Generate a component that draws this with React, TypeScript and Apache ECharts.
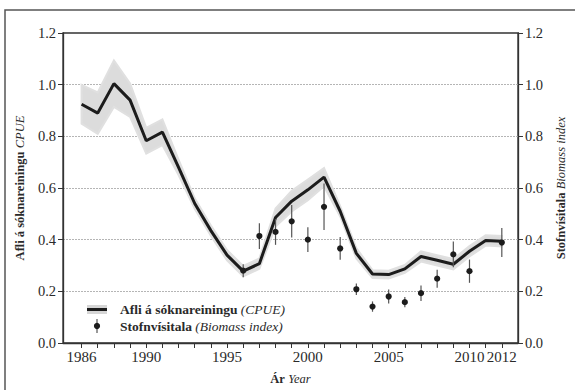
import React, { useEffect, useRef } from "react";
import * as echarts from "echarts";

const years = [1986, 1987, 1988, 1989, 1990, 1991, 1992, 1993, 1994, 1995, 1996, 1997, 1998, 1999, 2000, 2001, 2002, 2003, 2004, 2005, 2006, 2007, 2008, 2009, 2010, 2011, 2012];
const cpue = [0.924, 0.89, 1.004, 0.94, 0.783, 0.816, 0.68, 0.54, 0.435, 0.34, 0.278, 0.307, 0.486, 0.549, 0.593, 0.642, 0.51, 0.347, 0.267, 0.265, 0.287, 0.335, 0.32, 0.305, 0.355, 0.397, 0.394];
const cpueHalfCI = [0.075, 0.08, 0.09, 0.065, 0.05, 0.05, 0.03, 0.02, 0.02, 0.02, 0.02, 0.02, 0.035, 0.04, 0.04, 0.035, 0.02, 0.02, 0.015, 0.015, 0.015, 0.02, 0.02, 0.02, 0.02, 0.02, 0.02];

const bioYears = [1996, 1997, 1998, 1999, 2000, 2001, 2002, 2003, 2004, 2005, 2006, 2007, 2008, 2009, 2010, 2012];
const bio = [0.28, 0.414, 0.43, 0.471, 0.4, 0.527, 0.366, 0.208, 0.141, 0.18, 0.158, 0.193, 0.249, 0.343, 0.278, 0.389];
const bioErr = [0.025, 0.05, 0.05, 0.063, 0.048, 0.09, 0.044, 0.022, 0.02, 0.027, 0.02, 0.03, 0.035, 0.05, 0.045, 0.056];

const xLabelYears = [1986, 1990, 1995, 2000, 2005, 2010, 2012];

const SERIF = "'Liberation Serif', 'DejaVu Serif', serif";
const TXT = "#2a2a2a";

export default function App() {
  const ref = useRef<HTMLDivElement>(null);
  useEffect(() => {
    if (!ref.current) return;
    const chart = echarts.init(ref.current, null, { renderer: "svg" });
    const richName = {
      b: { fontFamily: SERIF, fontWeight: "bold", fontSize: 12.5, color: TXT },
      i: { fontFamily: SERIF, fontStyle: "italic", fontSize: 12.5, color: TXT },
    };
    const yCommon = {
      type: "value",
      min: 0,
      max: 1.2,
      interval: 0.2,
      axisLine: { show: true, lineStyle: { color: "#333", width: 1.3 } },
      axisTick: { show: true, inside: false, length: 5, lineStyle: { color: "#333" } },
      axisLabel: {
        formatter: (v: number) => v.toFixed(1),
        fontFamily: SERIF,
        fontSize: 14.5,
        color: TXT,
        margin: 7,
      },
      nameLocation: "middle",
      nameRotate: 90,
      nameTextStyle: { rich: richName },
    };
    const option: any = {
      animation: false,
      grid: {
        left: 63,
        right: 50,
        top: 33,
        bottom: 40,
        show: true,
        borderColor: "#333",
        borderWidth: 1.3,
        backgroundColor: "transparent",
      },
      xAxis: {
        type: "value",
        min: 1984.85,
        max: 2013,
        axisLine: { show: true, onZero: false, lineStyle: { color: "#333", width: 1.3 } },
        axisTick: { show: true, inside: false, length: 5, customValues: years, lineStyle: { color: "#333" } },
        axisLabel: {
          customValues: xLabelYears,
          formatter: (v: number) => String(v),
          fontFamily: SERIF,
          fontSize: 15,
          color: TXT,
          margin: 6,
        },
        splitLine: { show: false },
        name: "{b|Ár} {i|Year}",
        nameLocation: "middle",
        nameGap: 29,
        nameTextStyle: { rich: richName },
      },
      yAxis: [
        {
          ...yCommon,
          position: "left",
          name: "{b|Afli á sóknareiningu} {i|CPUE}",
          nameGap: 35,
          splitLine: {
            show: true,
            lineStyle: {
              color: ["transparent", "#b5b5b5", "#b5b5b5", "#b5b5b5", "#b5b5b5", "#b5b5b5", "transparent"],
              width: 1,
              type: [2, 1],
            },
          },
        },
        {
          ...yCommon,
          position: "right",
          name: "{b|Stofnvísitala} {i|Biomass index}",
          nameGap: 34,
          splitLine: { show: false },
        },
      ],
      series: [
        {
          type: "custom",
          z: 1,
          silent: true,
          data: years.map((y, i) => [y, cpue[i]]),
          encode: { x: 0, y: 1 },
          renderItem: (params: any, api: any) => {
            if (params.dataIndex !== 0) return null;
            const upper = years.map((y, i) => api.coord([y, cpue[i] + cpueHalfCI[i]]));
            const lower = years.map((y, i) => api.coord([y, cpue[i] - cpueHalfCI[i]])).reverse();
            return {
              type: "polygon",
              shape: { points: upper.concat(lower) },
              style: { fill: "#dcdcdc", stroke: "#e0e0e0", lineWidth: 2 },
            };
          },
        },
        {
          type: "line",
          z: 3,
          data: years.map((y, i) => [y, cpue[i]]),
          showSymbol: false,
          lineStyle: { color: "#1c1c1c", width: 3 },
          itemStyle: { color: "#1c1c1c" },
        },
        {
          type: "custom",
          z: 4,
          data: bioYears.map((y, i) => [y, bio[i], bioErr[i]]),
          encode: { x: 0, y: 1 },
          renderItem: (params: any, api: any) => {
            const x = api.value(0);
            const v = api.value(1);
            const e = api.value(2);
            const top = api.coord([x, v + e]);
            const bot = api.coord([x, v - e]);
            const c = api.coord([x, v]);
            return {
              type: "group",
              children: [
                {
                  type: "line",
                  shape: { x1: top[0], y1: top[1], x2: bot[0], y2: bot[1] },
                  style: { stroke: "#555", lineWidth: 1.2 },
                },
                {
                  type: "circle",
                  shape: { cx: c[0], cy: c[1], r: 3.1 },
                  style: { fill: "#1c1c1c" },
                },
              ],
            };
          },
        },
      ],
      graphic: [
        {
          type: "rect",
          silent: true,
          shape: { x: 5, y: 10, width: 620, height: 420 },
          style: { fill: "none", stroke: "#555", lineWidth: 1.5 },
        },
        {
          type: "rect",
          shape: { x: 87, y: 305, width: 20, height: 9 },
          style: { fill: "#d6d6d6" },
        },
        {
          type: "line",
          shape: { x1: 87, y1: 309.5, x2: 107, y2: 309.5 },
          style: { stroke: "#1c1c1c", lineWidth: 3 },
        },
        {
          type: "text",
          x: 120,
          y: 309.5,
          style: {
            text: "{b|Afli á sóknareiningu} {i|(CPUE)}",
            verticalAlign: "middle",
            rich: {
              b: { fontFamily: SERIF, fontWeight: "bold", fontSize: 13.5, fill: TXT },
              i: { fontFamily: SERIF, fontStyle: "italic", fontSize: 13.5, fill: TXT },
            },
          },
        },
        {
          type: "line",
          shape: { x1: 97, y1: 319, x2: 97, y2: 333 },
          style: { stroke: "#555", lineWidth: 1.2 },
        },
        {
          type: "circle",
          shape: { cx: 97, cy: 326, r: 3.1 },
          style: { fill: "#1c1c1c" },
        },
        {
          type: "text",
          x: 120,
          y: 326,
          style: {
            text: "{b|Stofnvísitala} {i|(Biomass index)}",
            verticalAlign: "middle",
            rich: {
              b: { fontFamily: SERIF, fontWeight: "bold", fontSize: 13.5, fill: TXT },
              i: { fontFamily: SERIF, fontStyle: "italic", fontSize: 13.5, fill: TXT },
            },
          },
        },
      ],
    };
    chart.setOption(option);
    return () => chart.dispose();
  }, []);
  return (
    <div
      ref={ref}
      style={{ position: "fixed", left: 0, top: 0, width: 575, height: 390, background: "#fff" }}
    />
  );
}
